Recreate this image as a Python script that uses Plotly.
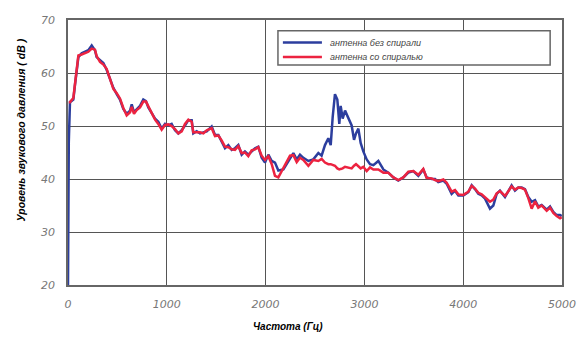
import plotly.graph_objects as go

# Frequency (Hz)
freq = [0, 8, 20, 54, 71, 88, 105, 138, 172, 206, 240, 273, 290, 324, 358, 391, 425, 459, 493, 526,
        560, 594, 628, 645, 668, 695, 729, 762, 789, 813, 847, 881, 914, 948, 982, 1015, 1049, 1083,
        1117, 1151, 1184, 1218, 1252, 1268, 1302, 1336, 1370, 1404, 1454, 1488, 1522, 1555, 1589,
        1623, 1657, 1690, 1724, 1758, 1791, 1825, 1859, 1893, 1926, 1960, 1994, 2028, 2062, 2095,
        2129, 2180, 2213, 2247, 2281, 2315, 2348, 2382, 2433, 2483, 2534, 2567, 2601, 2635, 2659,
        2679, 2702, 2726, 2746, 2760, 2780, 2804, 2837, 2871, 2895, 2915, 2939, 2962, 2989, 3023,
        3057, 3091, 3141, 3192, 3242, 3293, 3343, 3394, 3445, 3495, 3546, 3596, 3630, 3681, 3715,
        3748, 3799, 3833, 3883, 3917, 3951, 4001, 4052, 4086, 4119, 4153, 4187, 4221, 4271, 4305,
        4339, 4372, 4423, 4457, 4490, 4524, 4558, 4592, 4625, 4659, 4693, 4727, 4760, 4794, 4845,
        4879, 4912, 4946, 4980, 4997]

# Antenna without spiral (dB)
blue_db = [20, 47, 54.5, 55, 57.8, 61, 63, 63.7, 64, 64.3, 65.2, 64.3, 63, 62.4, 61.9, 60.6, 58.7, 57.2, 56, 55,
           53.2, 52.3, 52.9, 54.1, 52.6, 53.2, 53.8, 55, 54.7, 53.5, 52.3, 51.4, 50.8, 49.5, 50.4, 50.1, 50.4, 49.2,
           48.6, 49.2, 50.1, 51.1, 51.1, 48.6, 49, 48.6, 48.8, 49, 49.9, 48.3, 48.3, 47.1, 45.8,
           46.4, 45.5, 45.8, 46.4, 44.6, 45.2, 44.6, 45.2, 45.8, 46.1, 44.0, 43.1, 44.6, 43.4, 43.1,
           41.6, 41.8, 42.8, 44.0, 44.9, 43.7, 44.6, 44.0, 43.4, 43.7, 44.9, 44.4, 46.4, 47.7, 46.4,
           51.7, 56.0, 55.0, 50.4, 53.8, 51.4, 52.9, 51.4, 50.1, 47.4, 48.6, 49.5, 46.8, 45.2, 43.7,
           42.8, 42.6, 43.4, 41.8, 41.2, 40.3, 39.7, 40.3, 41.2, 41.5, 40.6, 41.8, 40.3, 40.0, 40.0,
           39.4, 39.7, 39.1, 37.2, 37.8, 36.9, 36.9, 37.5, 38.8, 38.1, 37.2, 36.9, 36.3, 34.4, 35.0,
           37.2, 37.8, 36.6, 37.8, 38.8, 37.8, 38.4, 38.4, 38.1, 36.6, 35.7, 36.0, 34.8, 35.1, 34.2,
           34.8, 33.8, 33.2, 33.2, 33.0]

# Antenna with spiral (dB)
red_db = [None, 54.5, 54.5, 55.3, 58, 61.5, 63.3, 63.5, 63.8, 64.0, 64.6, 64.4, 63.2, 62.1, 61.6, 60.8, 58.9, 57.0, 56.2, 55.2,
          53.4, 52.0, 52.6, 53.6, 52.3, 53.0, 53.5, 54.6, 54.6, 53.7, 52.4, 51.2, 50.4, 49.3, 50.2, 50.3, 50.0, 49.4,
          48.6, 49.0, 50.4, 51.2, 50.8, 48.8, 48.8, 48.8, 48.6, 49.2, 49.6, 48.1, 48.2, 47.3, 46.1,
          46.0, 45.6, 45.5, 46.2, 44.9, 45.0, 44.3, 45.4, 45.6, 46.0, 44.4, 43.6, 44.3, 42.8, 40.6,
          40.3, 42.0, 43.2, 44.4, 44.5, 43.2, 44.0, 43.6, 42.5, 43.6, 43.4, 43.8, 43.1, 42.8, 42.8,
          42.6, 42.5, 42.0, 41.8, 41.9, 42.0, 42.3, 42.2, 42.0, 42.5, 42.8, 42.4, 42.0, 42.3, 41.5,
          42.2, 41.8, 41.8, 41.2, 41.2, 40.3, 39.8, 40.3, 41.4, 41.5, 40.8, 41.9, 40.2, 40.1, 39.8,
          39.6, 39.9, 39.3, 37.6, 37.9, 37.1, 37.0, 37.6, 38.7, 38.2, 37.4, 37.1, 36.5, 35.7, 36.1,
          37.3, 37.7, 36.8, 37.7, 38.6, 38.0, 38.4, 38.3, 38.0, 36.4, 34.4, 35.8, 34.6, 35.0, 34.0,
          34.6, 33.6, 33.0, 32.6, 32.8]

x_ticks = [0, 1000, 2000, 3000, 4000, 5000]
y_ticks = [20, 30, 40, 50, 60, 70]
series_names = ["антенна без спирали", "антенна со спиралью"]
series_colors = ["#2c3e9e", "#ec2340"]

fig = go.Figure()
fig.add_trace(go.Scatter(x=freq, y=blue_db, mode="lines", name=series_names[0],
                         line=dict(color=series_colors[0], width=2.5), showlegend=False))
fig.add_trace(go.Scatter(x=freq, y=red_db, mode="lines", name=series_names[1],
                         line=dict(color=series_colors[1], width=2.5), showlegend=False))

tickfont = dict(family="DejaVu Sans", size=11, color="#777777", style="italic")

# legend drawn manually (box, sample lines, labels)
legend_shapes = [dict(type="rect", xref="paper", yref="paper", x0=0.425, x1=0.976, y0=0.830, y1=0.959,
                      fillcolor="white", line=dict(color="#666666", width=1.5), layer="above")]
legend_ys = [0.915, 0.860]
legend_annots = []
for name, color, ly in zip(series_names, series_colors, legend_ys):
    legend_shapes.append(dict(type="line", xref="paper", yref="paper", x0=0.435, x1=0.514, y0=ly, y1=ly,
                              line=dict(color=color, width=2.5), layer="above"))
    legend_annots.append(dict(text="<i>" + name + "</i>", xref="paper", yref="paper", x=0.526, y=ly,
                              xanchor="left", yanchor="middle", showarrow=False,
                              font=dict(family="Liberation Sans", size=9, color="#444444")))

fig.update_layout(
    width=578, height=329,
    margin=dict(l=60, r=24, t=6, b=52),
    paper_bgcolor="white", plot_bgcolor="white",
    showlegend=False,
    xaxis=dict(range=[0, 5000], tickvals=x_ticks, ticktext=[str(v) for v in x_ticks],
               showgrid=True, gridcolor="#555555", gridwidth=1,
               showline=True, linecolor="#666666", linewidth=1.5, mirror=True,
               zeroline=False, ticks="", tickfont=tickfont, ticklabelstandoff=8),
    yaxis=dict(range=[20, 70], tickvals=y_ticks, ticktext=[str(v) for v in y_ticks],
               showgrid=True, gridcolor="#555555", gridwidth=1,
               showline=True, linecolor="#666666", linewidth=1.5, mirror=True,
               zeroline=False, ticks="", tickfont=tickfont, ticklabelstandoff=9),
    shapes=legend_shapes,
    annotations=legend_annots + [
        dict(text="<b><i>Частота (Гц)</i></b>", xref="paper", yref="paper", x=0.445, y=-0.155,
             xanchor="center", yanchor="middle", showarrow=False,
             font=dict(family="Liberation Sans", size=10, color="black")),
        dict(text="<b><i>Уровень звукового давления ( dB )</i></b>", xref="paper", yref="paper",
             x=-0.097, y=0.583, xanchor="center", yanchor="middle", textangle=-90, showarrow=False,
             font=dict(family="Liberation Sans", size=10.5, color="black")),
    ],
)

fig.write_html("out.html")
